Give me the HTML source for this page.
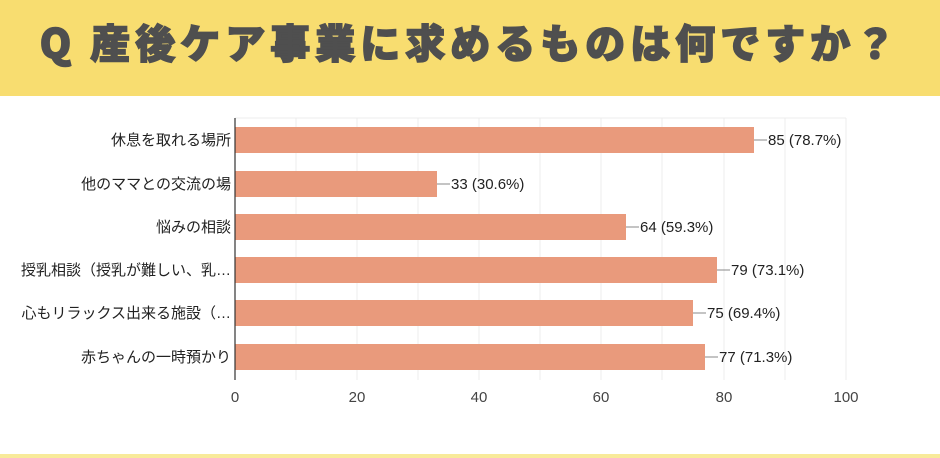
<!DOCTYPE html>
<html><head><meta charset="utf-8"><style>
body{margin:0;width:940px;height:458px;background:#fff;overflow:hidden;font-family:"Liberation Sans","Noto Sans CJK JP",sans-serif;position:relative}
.hdr{position:absolute;left:0;top:0;width:940px;height:96px;background:#f8dd70}
.hdr div{position:absolute;left:0;width:940px;top:12px;text-align:center;font-size:40px;font-weight:900;color:#4f4f4f;letter-spacing:5px;font-family:"Noto Sans CJK JP",sans-serif;-webkit-text-stroke:1.5px #4f4f4f}
.foot{position:absolute;left:0;top:454px;width:940px;height:4px;background:#f8ea9a}
</style></head><body>
<div class="hdr"><div>Q 産後ケア事業に求めるものは何ですか？</div></div>
<svg width="940" height="458" style="position:absolute;left:0;top:0" font-family="Liberation Sans, Noto Sans CJK JP, sans-serif">
<g stroke="#ececec" stroke-width="1">
<line x1="296" y1="118" x2="296" y2="380"/><line x1="357" y1="118" x2="357" y2="380"/><line x1="418" y1="118" x2="418" y2="380"/><line x1="479" y1="118" x2="479" y2="380"/><line x1="540" y1="118" x2="540" y2="380"/><line x1="601" y1="118" x2="601" y2="380"/><line x1="662" y1="118" x2="662" y2="380"/><line x1="724" y1="118" x2="724" y2="380"/><line x1="785" y1="118" x2="785" y2="380"/><line x1="846" y1="118" x2="846" y2="380"/>
<line x1="235" y1="118" x2="846" y2="118"/>
</g>
<g fill="#e99a7c">
<rect x="235" y="127" width="519" height="26"/>
<rect x="235" y="171" width="202" height="26"/>
<rect x="235" y="214" width="391" height="26"/>
<rect x="235" y="257" width="482" height="26"/>
<rect x="235" y="300" width="458" height="26"/>
<rect x="235" y="344" width="470" height="26"/>
</g>
<line x1="235" y1="118" x2="235" y2="380" stroke="#333" stroke-width="1.2"/>
<g stroke="#888"><line x1="754" y1="140" x2="767" y2="140"/><line x1="437" y1="184" x2="450" y2="184"/><line x1="626" y1="227" x2="639" y2="227"/><line x1="717" y1="270" x2="730" y2="270"/><line x1="693" y1="313" x2="706" y2="313"/><line x1="705" y1="357" x2="718" y2="357"/></g>
<g font-size="15" fill="#222">
<text x="768" y="145">85 (78.7%)</text>
<text x="451" y="189">33 (30.6%)</text>
<text x="640" y="232">64 (59.3%)</text>
<text x="731" y="275">79 (73.1%)</text>
<text x="707" y="318">75 (69.4%)</text>
<text x="719" y="362">77 (71.3%)</text>
</g>
<g font-size="15" fill="#222" text-anchor="end">
<text x="231" y="145">休息を取れる場所</text>
<text x="231" y="189">他のママとの交流の場</text>
<text x="231" y="232">悩みの相談</text>
<text x="231" y="275">授乳相談（授乳が難しい、乳…</text>
<text x="231" y="318">心もリラックス出来る施設（…</text>
<text x="231" y="362">赤ちゃんの一時預かり</text>
</g>
<g font-size="15" fill="#444" text-anchor="middle">
<text x="235" y="402">0</text><text x="357" y="402">20</text><text x="479" y="402">40</text><text x="601" y="402">60</text><text x="724" y="402">80</text><text x="846" y="402">100</text>
</g>
</svg>
<div class="foot"></div>
</body></html>
